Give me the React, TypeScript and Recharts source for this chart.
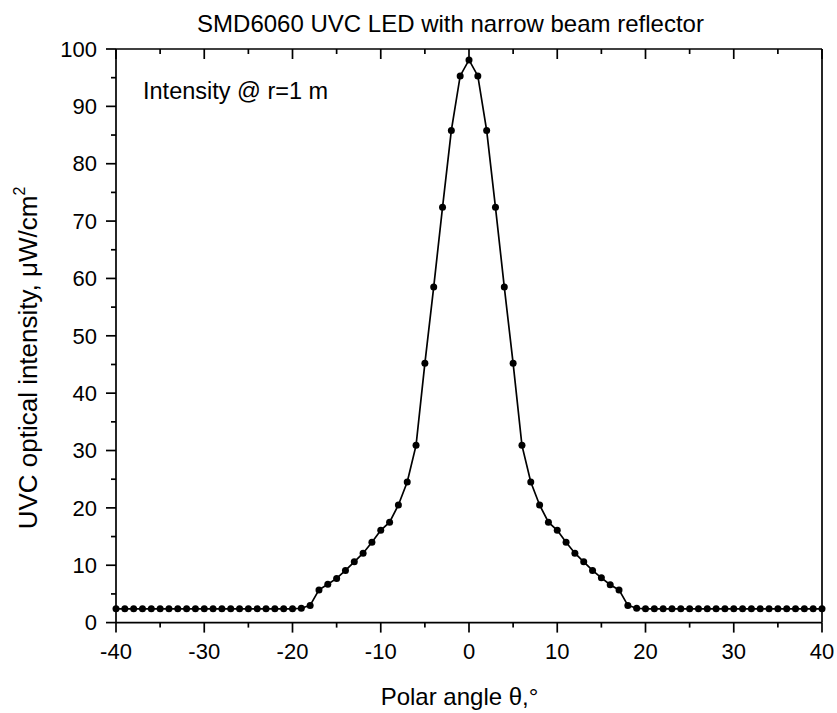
import React from 'react';
import { LineChart, Line, XAxis, YAxis } from 'recharts';

const angles = [
  -40, -39, -38, -37, -36, -35, -34, -33, -32, -31, -30, -29, -28, -27, -26, -25, -24, -23, -22, -21,
  -20, -19, -18, -17, -16, -15, -14, -13, -12, -11, -10, -9, -8, -7, -6, -5, -4, -3, -2, -1,
  0, 1, 2, 3, 4, 5, 6, 7, 8, 9, 10, 11, 12, 13, 14, 15, 16, 17, 18, 19,
  20, 21, 22, 23, 24, 25, 26, 27, 28, 29, 30, 31, 32, 33, 34, 35, 36, 37, 38, 39, 40,
];

const intensity = [
  2.4, 2.4, 2.4, 2.4, 2.4, 2.4, 2.4, 2.4, 2.4, 2.4, 2.4, 2.4, 2.4, 2.4, 2.4, 2.4, 2.4, 2.4, 2.4, 2.4,
  2.4, 2.5, 3.0, 5.7, 6.7, 7.7, 9.1, 10.6, 12.1, 14.0, 16.1, 17.5, 20.5, 24.5, 30.9, 45.2, 58.5, 72.4, 85.8, 95.3,
  98.1, 95.3, 85.8, 72.4, 58.5, 45.2, 30.9, 24.5, 20.5, 17.5, 16.1, 14.0, 12.1, 10.6, 9.1, 7.8, 6.6, 5.7, 3.0, 2.5,
  2.4, 2.4, 2.4, 2.4, 2.4, 2.4, 2.4, 2.4, 2.4, 2.4, 2.4, 2.4, 2.4, 2.4, 2.4, 2.4, 2.4, 2.4, 2.4, 2.4, 2.4,
];

const xTicks = [-40, -35, -30, -25, -20, -15, -10, -5, 0, 5, 10, 15, 20, 25, 30, 35, 40];
const yTicks = [0, 5, 10, 15, 20, 25, 30, 35, 40, 45, 50, 55, 60, 65, 70, 75, 80, 85, 90, 95, 100];

const chartTitle = 'SMD6060 UVC LED with narrow beam reflector';
const annotation = 'Intensity @ r=1 m';
const xLabel = 'Polar angle \u03b8,\u00b0';
const yLabelMain = 'UVC optical intensity, \u03bcW/cm';
const yLabelSup = '2';

const data = angles.map((a, i) => ({ angle: a, value: intensity[i] }));

const FONT = '"Liberation Sans", Arial, sans-serif';
const AXIS_W = 1.7;

const BottomTick = (props: any) => {
  const { x, y, payload } = props;
  const major = payload.value % 10 === 0;
  return (
    <g>
      <line x1={x} y1={y} x2={x} y2={y + (major ? 10 : 5)} stroke="#000" strokeWidth={AXIS_W} />
      {major && (
        <text x={x} y={y + 36.5} textAnchor="middle" fontFamily={FONT} fontSize={22} fill="#000">
          {payload.value}
        </text>
      )}
    </g>
  );
};

const TopTick = (props: any) => {
  const { x, y, payload } = props;
  const major = payload.value % 10 === 0;
  return <line x1={x} y1={y} x2={x} y2={y + (major ? 10 : 5)} stroke="#000" strokeWidth={AXIS_W} />;
};

const LeftTick = (props: any) => {
  const { x, y, payload } = props;
  const major = payload.value % 10 === 0;
  return (
    <g>
      <line x1={x - (major ? 10 : 5)} y1={y} x2={x} y2={y} stroke="#000" strokeWidth={AXIS_W} />
      {major && (
        <text x={x - 19} y={y + 7.7} textAnchor="end" fontFamily={FONT} fontSize={22} fill="#000">
          {payload.value}
        </text>
      )}
    </g>
  );
};

const XLabelContent = (props: any) => {
  const vb = props.viewBox || {};
  const cx = vb.x + vb.width / 2 - 9.5;
  return (
    <text x={cx} y={705} textAnchor="middle" fontFamily={FONT} fontSize={24} fill="#000">
      {xLabel}
    </text>
  );
};

const YLabelContent = () => {
  const cx = 37;
  const cy = 358;
  return (
    <text
      x={cx}
      y={cy}
      textAnchor="middle"
      transform={`rotate(-90 ${cx} ${cy})`}
      fontFamily={FONT}
      fontSize={26}
      fill="#000"
    >
      {yLabelMain}
      <tspan fontSize={16} dy={-12}>{yLabelSup}</tspan>
    </text>
  );
};

export default function App() {
  return (
    <div style={{ position: 'absolute', left: 0, top: 0, width: 837, height: 713, background: '#fff' }}>
      <LineChart width={837} height={713} data={data} margin={{ top: 48, right: 14, left: 0, bottom: 0 }}>
        <XAxis
          dataKey="angle"
          type="number"
          domain={[-40, 40]}
          ticks={xTicks}
          interval={0}
          height={90.4}
          tickSize={0}
          tickMargin={0}
          tickLine={false}
          tick={<BottomTick />}
          axisLine={{ stroke: '#000', strokeWidth: AXIS_W }}
          label={<XLabelContent />}
        />
        <XAxis
          xAxisId="top"
          orientation="top"
          dataKey="angle"
          type="number"
          domain={[-40, 40]}
          ticks={xTicks}
          interval={0}
          height={1}
          tickSize={0}
          tickMargin={0}
          tickLine={false}
          tick={<TopTick />}
          axisLine={{ stroke: '#000', strokeWidth: AXIS_W }}
        />
        <YAxis
          type="number"
          domain={[0, 100]}
          ticks={yTicks}
          interval={0}
          width={116}
          tickSize={0}
          tickMargin={0}
          tickLine={false}
          tick={<LeftTick />}
          axisLine={{ stroke: '#000', strokeWidth: AXIS_W }}
          label={<YLabelContent />}
        />
        <YAxis
          yAxisId="right"
          orientation="right"
          type="number"
          domain={[0, 100]}
          width={1}
          tick={false}
          tickLine={false}
          axisLine={{ stroke: '#000', strokeWidth: AXIS_W }}
        />
        <Line
          type="linear"
          dataKey="value"
          stroke="#000"
          strokeWidth={1.7}
          dot={{ r: 3.5, fill: '#000', stroke: 'none' }}
          activeDot={false}
          isAnimationActive={false}
        />
      </LineChart>
      <svg
        width={837}
        height={713}
        style={{ position: 'absolute', left: 0, top: 0, pointerEvents: 'none' }}
      >
        <text x={450.5} y={32} textAnchor="middle" fontFamily={FONT} fontSize={24} fill="#000">
          {chartTitle}
        </text>
        <text x={143} y={99} textAnchor="start" fontFamily={FONT} fontSize={23.5} fill="#000">
          {annotation}
        </text>
      </svg>
    </div>
  );
}
